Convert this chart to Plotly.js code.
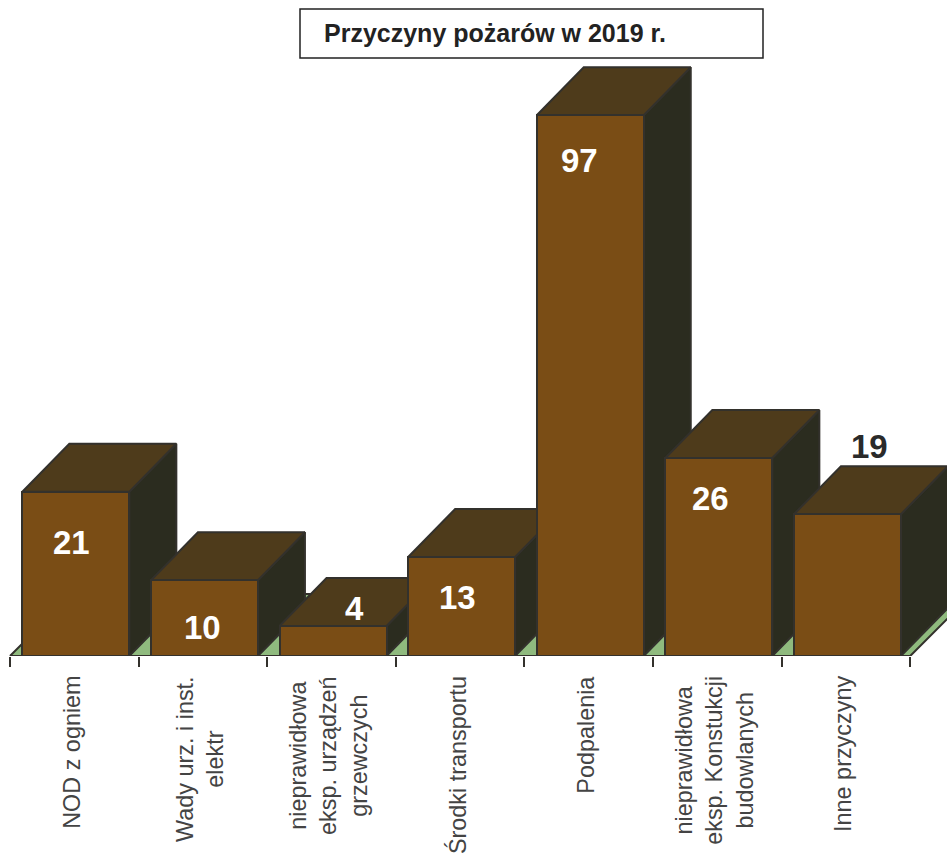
<!DOCTYPE html>
<html>
<head>
<meta charset="utf-8">
<script src="https://cdn.plot.ly/plotly-3.0.1.min.js"></script>
<style>html,body{margin:0;padding:0;background:#fff}</style>
</head>
<body>
<div id="chart" style="width:947px;height:860px"></div>
<script>
// Data
const categories = ["NOD z ogniem", "Wady urz. i inst.<br>elektr", "nieprawidłowa<br>eksp. urządzeń<br>grzewczych", "Środki transportu", "Podpalenia", "nieprawidłowa<br>eksp. Konstukcji<br>budowlanych", "Inne przyczyny"];
// The numbers printed on the bars
const printedValues = [21, 10, 4, 13, 97, 26, 19];
// The bar heights as drawn: in the original, the 97 bar is not to scale with the others
const drawnHeights = [21.9, 10.1, 4.0, 13.2, 72.1, 26.4, 18.9];
const chartTitle = "Przyczyny pożarów w 2019 r.";

// Styles and geometry
const W = 947, H = 860, baseY = 656, pxPerUnit = 7.5, tickStep = 128.6, firstTick = 10;
const xMin = -0.5 - firstTick / tickStep, xMax = xMin + W / tickStep;
const yMax = baseY / pxPerUnit;
const barW = 107 / tickStep;
const depthX = 47 / tickStep, depthY = 48 / pxPerUnit;
const floorX = 62 / tickStep, floorY = 62 / pxPerUnit;
const edge = "#33312c", frontCol = "#7a4d15", topCol = "#4e3b1b", sideCol = "#2b2c1f", floorCol = "#8fba7e";
const labelDx = [-2.5, 0, 22.5, -3, -9, -6.5, 24];
const labelDy = [-51, -47, 18, -40, -45, -40, 68];
const labelCol = ["#fff", "#fff", "#fff", "#fff", "#fff", "#fff", "#2a2a2a"];
const font = "Liberation Sans, Arial, sans-serif";

const traces = [];
function poly(xs, ys, col) {
  traces.push({type: "scatter", mode: "lines", x: xs.concat(xs[0]), y: ys.concat(ys[0]), fill: "toself",
    fillcolor: col, line: {color: edge, width: 2}, hoverinfo: "skip", showlegend: false, xaxis: "x", yaxis: "y"});
}
poly([-0.5, 6.5, 6.5 + floorX, -0.5 + floorX], [0, 0, floorY, floorY], floorCol);
drawnHeights.forEach((h, i) => {
  const l = i + 0.012 - barW / 2, r = i + 0.012 + barW / 2;
  poly([r, r + depthX, r + depthX, r], [0, depthY, h + depthY, h], sideCol);
  poly([l, r, r + depthX, l + depthX], [h, h, h + depthY, h + depthY], topCol);
});
traces.push({type: "bar", x: categories.map((c, i) => i + 0.012), y: drawnHeights, width: barW,
  marker: {color: frontCol, line: {color: edge, width: 2}}, customdata: printedValues,
  hovertemplate: "%{customdata}<extra></extra>", showlegend: false, xaxis: "x2", yaxis: "y2"});
traces.push({type: "scatter", mode: "lines", x: [-0.5, 6.5], y: [0, 0], line: {color: edge, width: 2},
  hoverinfo: "skip", showlegend: false, xaxis: "x2", yaxis: "y2", cliponaxis: false});

const annotations = [];
printedValues.forEach((v, i) => annotations.push({x: i, y: drawnHeights[i], xref: "x", yref: "y", text: "<b>" + v + "</b>",
  showarrow: false, xshift: labelDx[i], yshift: labelDy[i], yanchor: "middle", xanchor: "center",
  font: {family: font, size: 33, color: labelCol[i]}}));
categories.forEach((c, i) => annotations.push({x: i, y: 0, xref: "x", yref: "y", text: c, showarrow: false,
  textangle: -90, align: "center", xanchor: "center", yanchor: "top", xshift: -3, yshift: -18,
  font: {family: font, size: 23.4, color: "#444"}}));
const plotH = baseY;
annotations.push({xref: "paper", yref: "paper", x: 322 / W, y: 1 - 33 / plotH, xanchor: "left", yanchor: "middle",
  showarrow: false, text: "<b>" + chartTitle + "</b>", font: {family: font, size: 25, color: "#222"}});

const layout = {
  width: W, height: H, paper_bgcolor: "#fff", plot_bgcolor: "#fff", showlegend: false,
  margin: {l: 0, r: 0, t: 0, b: H - baseY, pad: 0}, bargap: 0,
  xaxis: {range: [xMin, xMax], type: "linear", showgrid: false, zeroline: false, showline: false, showticklabels: false,
    tickmode: "array", tickvals: [], ticks: "",
    minor: {tick0: -0.5, dtick: 1, ticks: "outside", ticklen: 10, tickwidth: 2, tickcolor: edge, showgrid: false}},
  yaxis: {range: [0, yMax], visible: false, fixedrange: true},
  xaxis2: {range: [xMin, xMax], overlaying: "x", visible: false, anchor: "y2"},
  yaxis2: {range: [0, yMax], overlaying: "y", visible: false, anchor: "x2"},
  shapes: [{type: "rect", xref: "paper", yref: "paper", x0: 300 / W, x1: 763 / W, y0: 1 - 9 / plotH, y1: 1 - 58 / plotH,
    line: {color: "#222", width: 1.5}, fillcolor: "#fff", layer: "above"}],
  annotations: annotations
};
Plotly.newPlot("chart", traces, layout, {displayModeBar: false});
</script>
</body>
</html>
